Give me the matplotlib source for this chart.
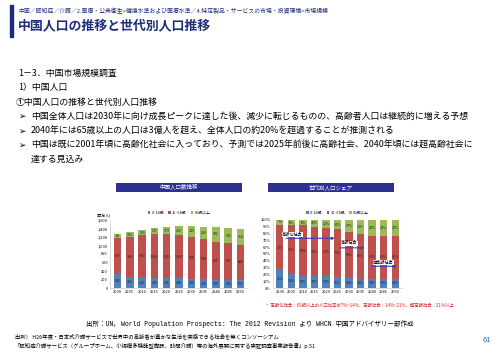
import numpy as np
import matplotlib.pyplot as plt

plt.rcParams['font.family'] = ['Noto Sans CJK JP', 'DejaVu Sans']

# data
years = ['2000', '2005', '2010', '2015', '2020', '2025', '2030', '2035', '2040', '2045', '2050']
groups = ['0~14歳', '15~64歳', '65歳以上']
pop_young = [325, 265, 250, 245, 245, 236, 220, 205, 198, 195, 193]
pop_work = [857, 939, 995, 1020, 1015, 1003, 988, 940, 895, 865, 828]
pop_old = [88, 104, 115, 137, 173, 210, 245, 299, 332, 345, 364]
share_young = [26, 20, 18, 17, 17, 16, 15, 14, 14, 14, 14]
share_old = [7, 8, 8, 10, 12, 14, 17, 20, 23, 24, 24]
share_work = [100 - a - b for a, b in zip(share_young, share_old)]
stages = ['高齢化社会', '高齢社会', '超高齢社会']

colors = ['#4F81BD', '#C0504D', '#9BBB59']
navy = '#1F2D7A'

fig = plt.figure(figsize=(5, 3.53), dpi=100)

# header
fig.add_artist(plt.Rectangle((0.02, 0.895), 0.006, 0.09, transform=fig.transFigure, color=navy))
fig.text(0.036, 0.968, '中国／認知症／介護／2.医療・公衆衛生>健康水準および医療水準／4.特定製品・サービスの市場・投資環境>市場規模',
         fontsize=4.2, color=navy, va='center')
fig.text(0.036, 0.928, '中国人口の推移と世代別人口推移', fontsize=9.3, fontweight='bold', color=navy, va='center')

# body text
fs = 6.4
body = [(0.036, 0.793, '1－3．中国市場規模調査'),
        (0.036, 0.751, '1）中国人口'),
        (0.032, 0.711, '①中国人口の推移と世代別人口推移')]
for x, y, s in body:
    fig.text(x, y, s, fontsize=fs, va='center')
bullets = [(0.669, '中国全体人口は2030年に向け成長ピークに達した後、減少に転じるものの、高齢者人口は継続的に増える予想'),
           (0.629, '2040年には65歳以上の人口は3億人を超え、全体人口の約20%を超過することが推測される'),
           (0.589, '中国は既に2001年頃に高齢化社会に入っており、予測では2025年前後に高齢社会、2040年頃には超高齢社会に')]
for y, s in bullets:
    fig.text(0.036, y, '➢', fontsize=fs, va='center', family=['DejaVu Sans'])
    fig.text(0.062, y, s, fontsize=fs, va='center')
fig.text(0.062, 0.549, '達する見込み', fontsize=fs, va='center')

# chart title boxes
for x0, s in [(0.232, '中国人口数推移'), (0.536, '世代別人口シェア')]:
    fig.add_artist(plt.Rectangle((x0, 0.456), 0.252, 0.027, transform=fig.transFigure,
                                 facecolor='#2E3192', edgecolor='none'))
    fig.text(x0 + 0.126, 0.469, s, fontsize=4.0, color='white', ha='center', va='center')

x = np.arange(len(years))
w = 0.62

# left: population
ax1 = fig.add_axes([0.22, 0.184, 0.276, 0.193])
bottom = np.zeros(len(years))
for vals, c, g in zip([pop_young, pop_work, pop_old], colors, groups):
    ax1.bar(x, vals, w, bottom=bottom, color=c, label=g)
    for xi, b, v in zip(x, bottom, vals):
        ax1.text(xi, b + v / 2, f'{v:,}', fontsize=2.5, ha='center', va='center', color='#222222')
    bottom += np.array(vals)
ax1.set_ylim(0, 1600)
ax1.set_yticks(np.arange(0, 1601, 200))
ax1.set_yticklabels([f'{v:,}' for v in range(0, 1601, 200)])
ax1.set_xlim(-0.6, len(years) - 0.4)
ax1.set_xticks(x)
ax1.set_xticklabels(years)
ax1.text(-0.1, 1.06, '(百万人)', transform=ax1.transAxes, fontsize=2.8, ha='left')
ax1.legend(loc='lower center', bbox_to_anchor=(0.5, 1.02), ncol=3, frameon=False,
           fontsize=2.8, handlelength=0.7, handleheight=0.7, columnspacing=1.0, handletextpad=0.3)

# right: share
ax2 = fig.add_axes([0.546, 0.184, 0.258, 0.193])
bottom = np.zeros(len(years))
for vals, c, g in zip([share_young, share_work, share_old], colors, groups):
    ax2.bar(x, vals, w, bottom=bottom, color=c, label=g)
    for xi, b, v in zip(x, bottom, vals):
        ax2.text(xi, b + v / 2, f'{v}%', fontsize=2.5, ha='center', va='center', color='#222222')
    bottom += np.array(vals)
ax2.set_ylim(0, 100)
ax2.set_yticks(np.arange(0, 101, 10))
ax2.set_yticklabels([f'{v}%' for v in range(0, 101, 10)])
ax2.set_xlim(-0.6, len(years) - 0.4)
ax2.set_xticks(x)
ax2.set_xticklabels(years)
ax2.legend(loc='lower center', bbox_to_anchor=(0.5, 1.02), ncol=3, frameon=False,
           fontsize=2.8, handlelength=0.7, handleheight=0.7, columnspacing=1.0, handletextpad=0.3)

# stage arrows
arrows = [(0.3, 5.0, 73, 0.2, 79), (5.0, 7.6, 59, 5.3, 66), (7.7, 10.4, 32, 8.1, 38)]
for (x0, x1, y, tx, ty), s in zip(arrows, stages):
    ax2.annotate('', xy=(x1, y), xytext=(x0, y),
                 arrowprops=dict(arrowstyle='-|>', color='#3B3BC4', lw=0.8, mutation_scale=4))
    ax2.text(tx, ty, s, fontsize=3.0, ha='left', va='center',
             bbox=dict(facecolor='white', edgecolor='none', pad=0.3))

for ax in (ax1, ax2):
    ax.tick_params(labelsize=2.8, length=0, pad=1.5)
    for sp in ['top', 'right']:
        ax.spines[sp].set_visible(False)
    for sp in ['left', 'bottom']:
        ax.spines[sp].set_color('#BFBFBF')
        ax.spines[sp].set_linewidth(0.4)

fig.text(0.53, 0.136, '・ 高齢化社会：65歳以上の人口比率が7%~14%、高齢社会：14%~21%、超高齢社会：21%以上',
         fontsize=3.2, color='#E02020', va='center')

# sources
fig.text(0.5, 0.082, '出所：UN, World Population Prospects: The 2012 Revision より WHCN 中国アドバイザリー部作成',
         fontsize=4.7, ha='center', va='center', family=['Liberation Mono', 'Noto Sans CJK JP'])
fig.text(0.03, 0.046, '出所） H26年度・日本式介護サービスで世界中の高齢者が豊かな生活を実感できる社会を築くコンソーシアム',
         fontsize=3.9, va='center')
fig.text(0.03, 0.020, '「認知症介護サービス（グループホーム、小規模多機能型施設、訪問介護）等の海外展開に関する実証調査事業報告書」p.51',
         fontsize=3.9, va='center')
fig.text(0.982, 0.036, '61', fontsize=5.5, color='#2E74B5', ha='right', va='center')

fig.savefig('out.png', dpi=100)
